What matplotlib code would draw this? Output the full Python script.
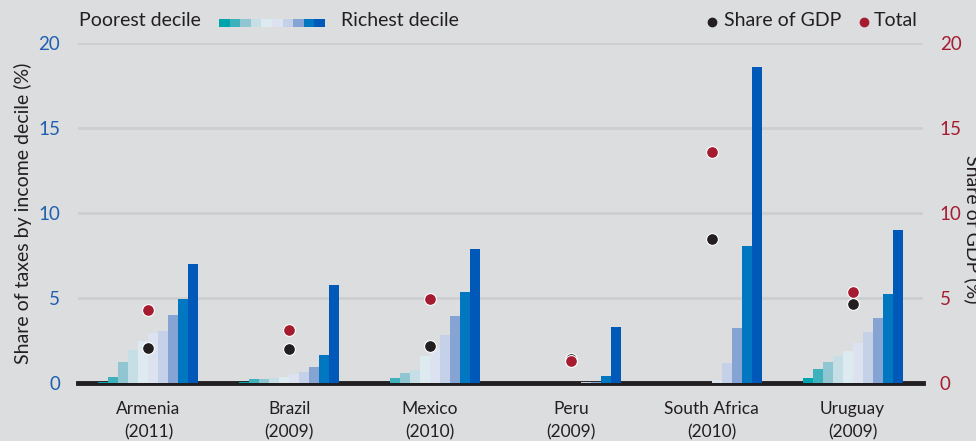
import matplotlib
matplotlib.use("Agg")
import matplotlib.pyplot as plt
from matplotlib.patches import Rectangle
import numpy as np

plt.rcParams['font.family'] = ['Lato', 'DejaVu Sans']

countries = ["Armenia\n(2011)", "Brazil\n(2009)", "Mexico\n(2010)", "Peru\n(2009)",
             "South Africa\n(2010)", "Uruguay\n(2009)"]
decile_shares = {
    "Armenia":      [0.08, 0.37, 1.25, 1.96, 2.49, 2.96, 3.08, 4.02, 4.96, 7.02],
    "Brazil":       [0.08, 0.25, 0.25, 0.31, 0.37, 0.55, 0.66, 0.96, 1.67, 5.78],
    "Mexico":       [0.03, 0.31, 0.60, 0.78, 1.60, 2.10, 2.84, 3.96, 5.37, 7.90],
    "Peru":         [0.0, 0.0, 0.0, 0.0, 0.0, 0.0, 0.05, 0.10, 0.43, 3.31],
    "South Africa": [0.0, 0.0, 0.0, 0.0, 0.0, 0.20, 1.19, 3.25, 8.08, 18.6],
    "Uruguay":      [0.31, 0.84, 1.25, 1.60, 1.90, 2.37, 3.02, 3.84, 5.25, 9.02],
}
share_of_gdp = [2.10, 2.02, 2.21, 1.45, 8.50, 4.66]
total = [4.31, 3.12, 4.98, 1.33, 13.6, 5.37]
yticks = [0, 5, 10, 15, 20]

decile_colors = ["#00A4AE", "#3DB2BD", "#8FC6D2", "#C6DFE6", "#DDEBF0",
                 "#DCE2F0", "#C4D1E8", "#85A4D3", "#0077C0", "#0059B9"]
bg = "#DCDDDF"
blue = "#1F5FB0"
red = "#A51C30"
dark = "#231F20"

fig = plt.figure(figsize=(9.76, 4.41), dpi=100, facecolor=bg)
ax = fig.add_axes([78/976, 1-383.3/441, 845/976, 340/441])
ax.set_facecolor(bg)

x = np.arange(len(countries))
bw = 10/140.8
for i, (name, vals) in enumerate(decile_shares.items()):
    for d, v in enumerate(vals):
        pos = x[i] + (d - 4.5) * bw
        ax.bar(pos, v, width=bw, color=decile_colors[d], linewidth=0, zorder=3)

ax.set_xlim(-0.5, 5.5)
ax.set_ylim(0, 20)
ax.set_yticks(yticks)
ax.set_yticklabels([str(t) for t in yticks])
ax.tick_params(axis='y', length=0, pad=13, labelsize=13.5, labelcolor=blue)
ax.set_xticks(x)
ax.set_xticklabels(countries, fontsize=12.5, color=dark, linespacing=1.5)
ax.tick_params(axis='x', length=0, pad=13)
ax.grid(axis='y', color="#CDCED0", linewidth=2, zorder=0)
ax.set_axisbelow(True)
for s in ["top", "right", "left"]:
    ax.spines[s].set_visible(False)
ax.spines["bottom"].set_color(dark)
ax.spines["bottom"].set_linewidth(3.5)
ax.spines["bottom"].set_zorder(2.5)
ax.set_ylabel("Share of taxes by income decile (%)", fontsize=14, color=dark, labelpad=4)

ax2 = ax.twinx()
ax2.set_ylim(0, 20)
ax2.set_yticks(yticks)
ax2.set_yticklabels([str(t) for t in yticks])
ax2.tick_params(axis='y', length=0, pad=12, labelsize=13.5, labelcolor=red)
for s in ["top", "right", "left", "bottom"]:
    ax2.spines[s].set_visible(False)
ax2.plot(x, share_of_gdp, 'o', color=dark, markersize=8.5, markeredgecolor="white",
         markeredgewidth=0.8, zorder=6)
ax2.plot(x, total, 'o', color=red, markersize=8.5, markeredgecolor="white",
         markeredgewidth=0.8, zorder=7)

fig.text(0.9965, 212/441, "Share of GDP (%)", rotation=270, ha='center', va='center',
         fontsize=14, color=dark)

# legend
ly = 1 - 21/441
fig.text(79/976, ly, "Poorest decile", fontsize=14, color=dark, va='center', ha='left')
sw = 10.6
for d, c in enumerate(decile_colors):
    fig.add_artist(Rectangle(((219 + d*sw)/976, 1-26.5/441), sw/976, 8/441,
                             transform=fig.transFigure, facecolor=c, edgecolor='none'))
fig.text(341/976, ly, "Richest decile", fontsize=14, color=dark, va='center', ha='left')
fig.text(724/976, ly, "Share of GDP", fontsize=14, color=dark, va='center', ha='left')
fig.text(874/976, ly, "Total", fontsize=14, color=dark, va='center', ha='left')
fig.lines.append(plt.Line2D([712/976], [1-22/441], marker='o', color=dark, markersize=6,
                            transform=fig.transFigure, linestyle='none'))
fig.lines.append(plt.Line2D([864/976], [1-22/441], marker='o', color=red, markersize=6,
                            transform=fig.transFigure, linestyle='none'))

fig.savefig("out.png", dpi=100, facecolor=bg)
